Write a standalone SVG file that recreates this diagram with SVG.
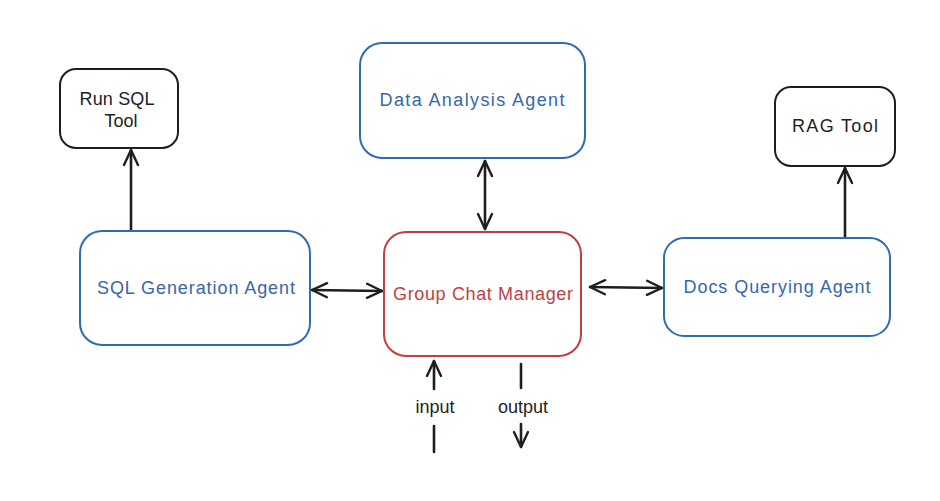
<svg xmlns="http://www.w3.org/2000/svg" width="940" height="501" viewBox="0 0 940 501">
<defs>
<style>
.box{fill:#fff;stroke-width:2;stroke-linejoin:round}
.blue{stroke:#2f6cb5}
.red{stroke:#c73d3d}
.black{stroke:#1e1e1e}
text{font-family:"Liberation Sans","DejaVu Sans",sans-serif;font-size:18px;text-anchor:middle;dominant-baseline:central}
.tb{fill:#3567ad}
.tr{fill:#c0413f}
.tk{fill:#1e1e1e}
.conn line,.conn path{stroke:#1e1e1e;stroke-width:2.6;fill:none;stroke-linecap:round;stroke-linejoin:round}
</style>
<marker id="ah" viewBox="0 0 20 20" refX="18" refY="10" markerWidth="20" markerHeight="20" markerUnits="userSpaceOnUse" orient="auto-start-reverse">
<path d="M3 3 L18 10 L3 17" fill="none" stroke="#1e1e1e" stroke-width="2.4" stroke-linecap="round" stroke-linejoin="round"/>
</marker>
</defs>
<rect width="940" height="501" fill="#fff"/>
<g class="conn" id="connectors">
<line x1="131" y1="230" x2="131" y2="150" marker-end="url(#ah)"/>
<line x1="485" y1="161" x2="485" y2="229" marker-start="url(#ah)" marker-end="url(#ah)"/>
<line x1="312" y1="290" x2="382" y2="291" marker-start="url(#ah)" marker-end="url(#ah)"/>
<line x1="590" y1="287" x2="662" y2="288" marker-start="url(#ah)" marker-end="url(#ah)"/>
<line x1="845" y1="237" x2="845" y2="168" marker-end="url(#ah)"/>
<line x1="434" y1="389" x2="434" y2="361" marker-end="url(#ah)"/>
<line x1="434" y1="426" x2="434" y2="452"/>
<line x1="521" y1="364" x2="521" y2="388"/>
<line x1="521" y1="424" x2="521" y2="447" marker-end="url(#ah)"/>
</g>
<g id="run-sql-tool">
<rect class="box black" x="60" y="69" width="118" height="79" rx="16"/>
<text class="tk" x="117" y="99" textLength="75">Run SQL</text>
<text class="tk" x="121" y="121">Tool</text>
</g>
<g id="sql-generation-agent">
<rect class="box blue" x="80" y="231" width="230" height="114" rx="22"/>
<text class="tb" x="196" y="288" textLength="198">SQL Generation Agent</text>
</g>
<g id="data-analysis-agent">
<rect class="box blue" x="360" y="43" width="225" height="115" rx="22"/>
<text class="tb" x="472" y="100" textLength="185">Data Analysis Agent</text>
</g>
<g id="group-chat-manager">
<rect class="box red" x="384" y="232" width="197" height="124" rx="22"/>
<text class="tr" x="483" y="294" textLength="180">Group Chat Manager</text>
</g>
<g id="docs-querying-agent">
<rect class="box blue" x="664" y="238" width="226" height="98" rx="20"/>
<text class="tb" x="777" y="287" textLength="187">Docs Querying Agent</text>
</g>
<g id="rag-tool">
<rect class="box black" x="775" y="87" width="120" height="79" rx="16"/>
<text class="tk" x="835" y="126" textLength="86">RAG Tool</text>
</g>
<g id="labels">
<text class="tk" x="435" y="407">input</text>
<text class="tk" x="523" y="407">output</text>
</g>
</svg>
